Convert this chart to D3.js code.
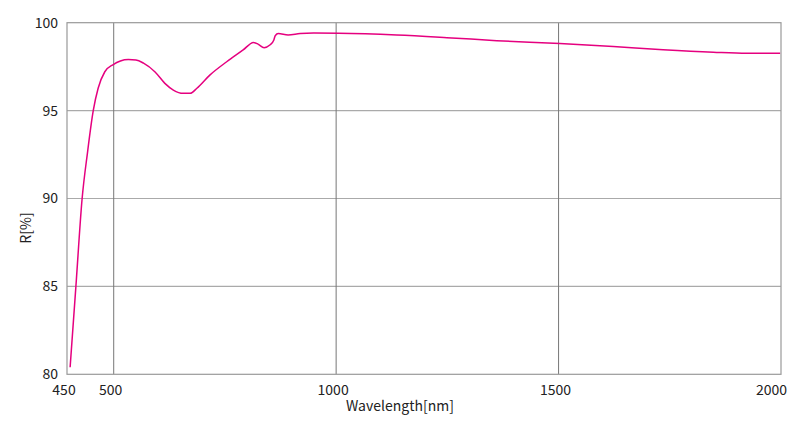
<!DOCTYPE html>
<html>
<head>
<meta charset="utf-8">
<script src="https://cdn.jsdelivr.net/npm/d3@7"></script>
<style>
    body { margin: 0; background: #fff; }
    text { font-family: "Noto Sans CJK JP", "Noto Sans", sans-serif; font-size: 14px; fill: #222; }
</style>
</head>
<body>
<div id="chart"></div>
<script>
// wavelength [nm] and reflectance R [%]
var wavelength = [402, 415, 429, 441, 454, 465, 480, 499, 515, 533, 550, 567, 593, 615, 634, 656, 672,
    687, 716, 754, 791, 814, 825, 838, 851, 860, 863, 870, 892, 919, 949, 1005, 1136, 1249, 1361, 1503, 1623, 1735, 1848, 1923, 1998];
var reflect = [80.4, 85.0, 90.0, 92.6, 95.0, 96.27, 97.21, 97.62, 97.82, 97.9, 97.88, 97.7, 97.2, 96.55, 96.17, 95.98, 95.98,
    96.27, 97.02, 97.78, 98.45, 98.88, 98.77, 98.58, 98.73, 99.02, 99.26, 99.38, 99.3, 99.38, 99.41, 99.4, 99.3, 99.15, 98.98, 98.81, 98.64, 98.46, 98.32, 98.26, 98.26];

var xTickValues = [395, 500, 1000, 1500, 2000];
var xTickLabels = ["450", "500", "1000", "1500", "2000"];
var yTickValues = [80, 85, 90, 95, 100];

var width = 800, height = 429;
var padL = 67, padR = 781, padT = 22.7, padB = 374.3;

var svg = d3.select("#chart")
    .append("svg")
    .attr("width", width)
    .attr("height", height);

var x = d3.scaleLinear().domain([395, 2000]).range([padL, padR]);
var y = d3.scaleLinear().domain([80, 100]).range([padB, padT]);

// horizontal grid
svg.selectAll("line.hgrid")
    .data(yTickValues.slice(1, 4))
    .enter()
    .append("line")
    .attr("class", "hgrid")
    .attr("x1", padL)
    .attr("x2", padR)
    .attr("y1", function(d){return y(d)})
    .attr("y2", function(d){return y(d)})
    .attr("stroke", "#aaa")
    .attr("stroke-width", 1.2)

// vertical grid
svg.selectAll("line.vgrid")
    .data(xTickValues.slice(1, 4))
    .enter()
    .append("line")
    .attr("class", "vgrid")
    .attr("x1", function(d){return x(d)})
    .attr("x2", function(d){return x(d)})
    .attr("y1", padT)
    .attr("y2", padB)
    .attr("stroke", "#777")
    .attr("stroke-width", 1)

// frame
svg.append("rect")
    .attr("x", padL)
    .attr("y", padT)
    .attr("width", padR - padL)
    .attr("height", padB - padT)
    .attr("fill", "none")
    .attr("stroke", "#999")
    .attr("stroke-width", 1.2)

svg.append("path")
    .datum(d3.zip(wavelength, reflect))
    .attr("fill", "none")
    .attr("stroke", "#e5007f")
    .attr("stroke-width", 1.5)
    .attr("d", d3.line()
        .x(function(d){return x(d[0])})
        .y(function(d){return y(d[1])})
        .curve(d3.curveMonotoneX))

// x tick labels
svg.selectAll("text.xtick")
    .data(xTickValues)
    .enter()
    .append("text")
    .attr("class", "xtick")
    .attr("x", function(d, i){return i == 4 ? x(d) + 6 : x(d) - 3})
    .attr("y", 395)
    .attr("text-anchor", function(d, i){return i == 4 ? "end" : "middle"})
    .text(function(d, i){return xTickLabels[i]})

// y tick labels
svg.selectAll("text.ytick")
    .data(yTickValues)
    .enter()
    .append("text")
    .attr("class", "ytick")
    .attr("x", 58)
    .attr("y", function(d){return y(d)})
    .attr("dy", "0.35em")
    .attr("text-anchor", "end")
    .text(function(d){return d})

svg.append("text")
    .attr("x", 400)
    .attr("y", 411)
    .attr("text-anchor", "middle")
    .text("Wavelength[nm]")

svg.append("text")
    .attr("transform", "translate(31,228) rotate(-90)")
    .attr("text-anchor", "middle")
    .text("R[%]")
</script>
</body>
</html>
